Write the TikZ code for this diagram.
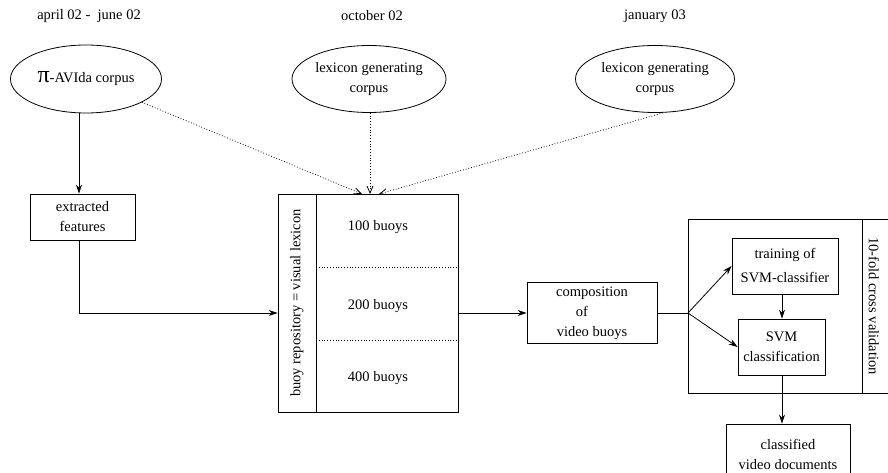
\documentclass[tikz,border=0pt]{standalone}
\usepackage{fontspec}
\setmainfont{Liberation Serif}
\usetikzlibrary{arrows.meta,shapes.geometric,calc}
\tikzset{
  base/.style={font=\fontsize{14.5}{20}\selectfont, inner sep=0pt, align=center},
  ell/.style={base, draw, ellipse, line width=0.8pt},
  box/.style={base, draw, rectangle, line width=0.8pt},
  lbl/.style={base},
  arr/.style={line width=0.8pt, -{Stealth[length=9pt,width=6pt]}},
  dotarr/.style={line width=0.8pt, dotted, -{Straight Barb[length=7pt,width=6pt]}},
  sepline/.style={line width=0.8pt},
}
\begin{document}
\begin{tikzpicture}[x=1pt,y=-1pt]
\useasboundingbox (0,0) rectangle (888,473);

% period labels
\node[lbl] (t1) at (89,16) {april 02 -\ \ june 02};
\node[lbl] (t2) at (372,16) {october 02};
\node[lbl] (t3) at (655,16) {january 03};

% corpora
\node[ell, minimum width=151, minimum height=68] (e1) at (86,79)
  {{\fontsize{24}{24}\selectfont π}-AVIda corpus};
\node[ell, minimum width=154, minimum height=67] (e2) at (369,79)
  {lexicon generating\\corpus};
\node[ell, minimum width=159, minimum height=67] (e3) at (655,79)
  {lexicon generating\\corpus};

% feature extraction
\node[box, minimum width=105, minimum height=46] (ef) at (82.5,217)
  {extracted\\features};

% buoy repository
\node[box, minimum width=180, minimum height=218] (buoy) at (368,303) {};
\coordinate (div1) at (316,194);
\coordinate (div2) at (316,412);
\draw[sepline] (div1) -- (div2);
\node[lbl, rotate=90] (brlab) at (297,303) {buoy repository = visual lexicon};
\node[lbl] (b100) at (378,227) {100 buoys};
\node[lbl] (b200) at (378,306) {200 buoys};
\node[lbl] (b400) at (378,378) {400 buoys};
\draw[dotted, line width=0.8pt] (div1 |- 0,267) -- (buoy.east |- 0,267);
\draw[dotted, line width=0.8pt] (div1 |- 0,340) -- (buoy.east |- 0,340);

% composition
\node[box, minimum width=130, minimum height=61] (comp) at (592,313)
  {composition\\\hspace*{-20pt}of\\video buoys};

% cross validation frame
\coordinate (cvtl) at (688,219);
\coordinate (cvbr) at (900,393);
\draw[sepline] (cvtl) rectangle (cvbr);
\draw[sepline] (862,219) -- (862,393);
\node[lbl, rotate=-90] (cvlab) at (874,306) {10-fold cross validation};
\coordinate (br) at (688,313);

\node[box, minimum width=106, minimum height=56] (train) at (785,266)
  {training of\\[4pt]SVM-classifier};
\node[box, minimum width=87, minimum height=56] (svm) at (781.5,347)
  {SVM\\classification};
\node[box, minimum width=124, minimum height=60] (cls) at (788,454)
  {classified\\video documents};

% connectors
\draw[arr] (e1.south -| 79,0) -- (ef.north -| 79,0);
\draw[arr] (ef.south -| 79,0) |- (buoy.west |- comp);
\draw[arr] (buoy.east |- comp) -- (comp.west);
\draw[sepline] (comp.east) -- (br);
\draw[arr] (br) -- (train.west);
\draw[arr] (br) -- (svm.west);
\draw[arr] (train.south -| 782,0) -- (svm.north -| 782,0);
\draw[arr] (svm.south -| 782,0) -- (cls.north -| 782,0);

\coordinate (tipA) at (362,194);
\coordinate (tipB) at (370,194);
\coordinate (tipC) at (379,194);
\draw[dotarr] (e1) -- (tipA);
\draw[dotarr] (e2.south -| tipB) -- (tipB);
\draw[dotarr] ($(e3.south)+(8,0)$) -- (tipC);
\end{tikzpicture}
\end{document}
